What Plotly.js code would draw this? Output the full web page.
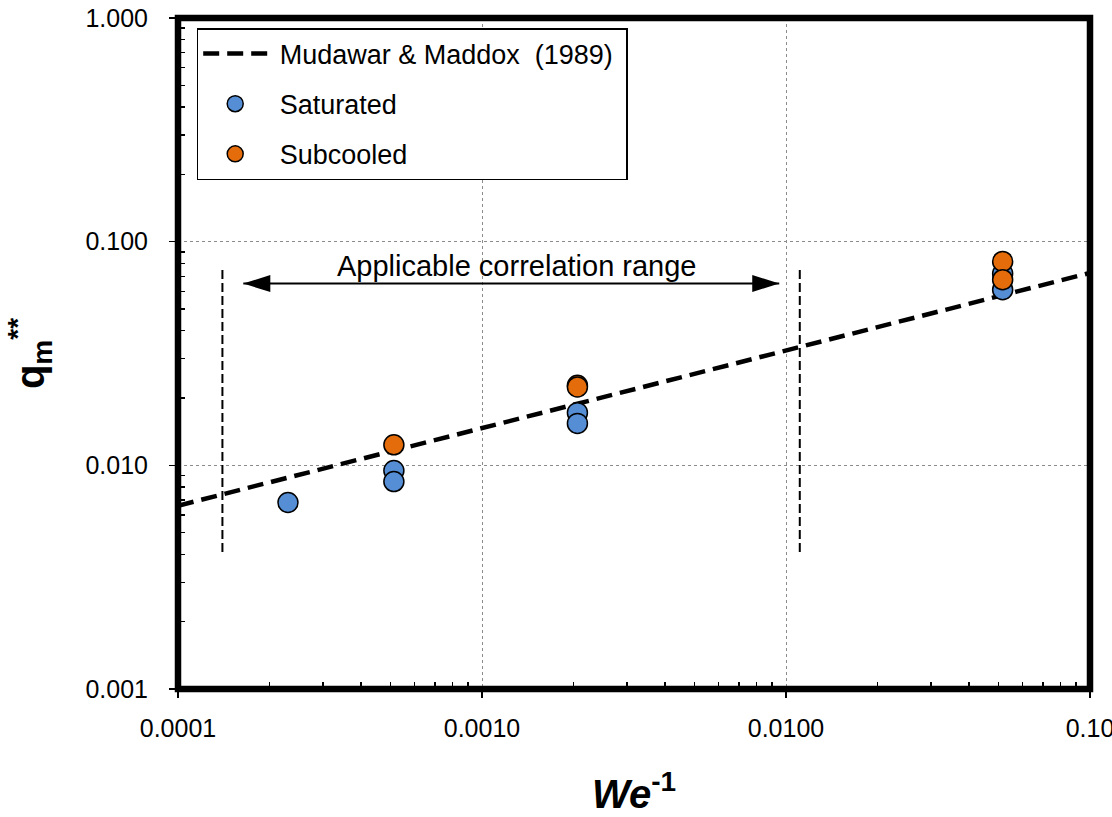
<!DOCTYPE html>
<html>
<head>
<meta charset="utf-8">
<script src="https://cdn.plot.ly/plotly-3.0.1.min.js"></script>
<style>
  html, body { margin: 0; padding: 0; background: #fff; }
  #chart { width: 1112px; height: 817px; }
</style>
</head>
<body>
<div id="chart"></div>
<script>
// Saturated data points (We^-1, q_m**)
const satX = [0.00023, 0.000513, 0.000513, 0.00206, 0.00206, 0.0516, 0.0516];
const satY = [0.00682, 0.00947, 0.00846, 0.0172, 0.0154, 0.072, 0.061];

// Subcooled data points
const subX = [0.000513, 0.00206, 0.00206, 0.0516, 0.0516];
const subY = [0.01235, 0.0228, 0.0224, 0.0816, 0.0676];

// Mudawar & Maddox (1989) correlation line, end points
const corrX = [0.0001, 0.1];
const corrY = [0.0066, 0.0725];

// Limits of the applicable correlation range
const rangeX = [0.00014, 0.0111];
const rangeY = [0.0041, 0.075];

// Arrow marking the applicable range
const arrowX = [0.000164, 0.0095];
const arrowY = 0.065;
const rangeLabel = 'Applicable correlation range';
const rangeLabelX = 0.0013;
const rangeLabelY = 0.078;

// Axis ticks
const xTickVals = [0.0001, 0.001, 0.01, 0.1];
const xTickText = ['0.0001', '0.0010', '0.0100', '0.10'];
const yTickVals = [0.001, 0.01, 0.1, 1];
const yTickText = ['0.001', '0.010', '0.100', '1.000'];

function minorTicks(decades) {
  const out = [];
  decades.forEach(d => { for (let k = 2; k <= 9; k++) out.push(k * Math.pow(10, d)); });
  return out;
}

const FONT = 'Liberation Sans, Arial, sans-serif';
const blue = '#558ED5';
const orange = '#E46C0A';
const NB = '\u00A0';

const traces = [
  {
    x: corrX, y: corrY, mode: 'lines', name: NB + 'Mudawar &amp; Maddox' + NB + ' (1989)' + NB,
    line: { color: '#000', width: 4.5, dash: '16px,8px' },
    legendgroup: 'a'
  },
  {
    x: satX, y: satY, mode: 'markers', name: NB + 'Saturated',
    marker: { size: 20, color: blue, line: { color: '#000', width: 1.5 } },
    legendgroup: 'b'
  },
  {
    x: subX, y: subY, mode: 'markers', name: NB + 'Subcooled',
    marker: { size: 20, color: orange, line: { color: '#000', width: 1.5 } },
    legendgroup: 'c'
  }
];

const shapes = [
  // range limits
  ...rangeX.map(xv => ({
    type: 'line', xref: 'x', yref: 'y', x0: xv, x1: xv, y0: rangeY[0], y1: rangeY[1],
    line: { color: '#000', width: 2, dash: '9px,4px' }
  })),
  // arrow shaft
  {
    type: 'line', xref: 'x', yref: 'y', x0: arrowX[0], x1: arrowX[1], y0: arrowY, y1: arrowY,
    line: { color: '#000', width: 2 }
  },
  // arrow heads
  {
    type: 'path', xref: 'x', yref: 'y', xsizemode: 'pixel', ysizemode: 'pixel',
    xanchor: arrowX[0], yanchor: arrowY, path: 'M0,0 L27,8.5 L27,-8.5 Z',
    fillcolor: '#000', line: { width: 0 }
  },
  {
    type: 'path', xref: 'x', yref: 'y', xsizemode: 'pixel', ysizemode: 'pixel',
    xanchor: arrowX[1], yanchor: arrowY, path: 'M0,0 L-27,8.5 L-27,-8.5 Z',
    fillcolor: '#000', line: { width: 0 }
  },
  // heavy plot frame
  {
    type: 'rect', xref: 'paper', yref: 'paper', x0: 0, x1: 1, y0: 0, y1: 1,
    line: { color: '#000', width: 6.5 }, layer: 'above'
  }
];

const layout = {
  width: 1112, height: 817,
  margin: { l: 178, r: 22, t: 18, b: 128 },
  paper_bgcolor: '#fff', plot_bgcolor: '#fff',
  font: { family: FONT, color: '#000' },
  showlegend: true,
  legend: {
    x: 0.0205, y: 0.985, xanchor: 'left', yanchor: 'top',
    bgcolor: '#fff', bordercolor: '#000', borderwidth: 1.5,
    font: { size: 27, family: FONT, color: '#000' },
    traceorder: 'grouped', tracegroupgap: 12, itemwidth: 64
  },
  xaxis: {
    type: 'log', range: [-4, -1],
    tickmode: 'array', tickvals: xTickVals, ticktext: xTickText,
    ticks: 'outside', ticklen: 8, tickwidth: 1.5, tickcolor: '#000',
    ticklabelstandoff: 9, ticklabeloverflow: 'allow',
    tickfont: { size: 25, family: FONT, color: '#000' },
    showline: false, zeroline: false,
    showgrid: true, gridcolor: '#8c8c8c', gridwidth: 1, griddash: 'dot',
    minor: {
      tickmode: 'array', tickvals: minorTicks([-4, -3, -2]),
      ticks: 'inside', ticklen: 7, tickwidth: 1.5, tickcolor: '#000', showgrid: false
    },
    title: {
      text: '<b><i>We</i><sup>-1</sup></b>',
      font: { size: 40, family: FONT, color: '#000' },
      standoff: 38
    }
  },
  yaxis: {
    type: 'log', range: [-3, 0],
    tickmode: 'array', tickvals: yTickVals, ticktext: yTickText,
    ticks: 'outside', ticklen: 8, tickwidth: 1.5, tickcolor: '#000',
    ticklabelstandoff: 16, ticklabeloverflow: 'allow',
    tickfont: { size: 25, family: FONT, color: '#000' },
    showline: false, zeroline: false,
    showgrid: true, gridcolor: '#8c8c8c', gridwidth: 1, griddash: 'dot',
    minor: {
      tickmode: 'array', tickvals: minorTicks([-3, -2, -1]),
      ticks: 'inside', ticklen: 7, tickwidth: 1.5, tickcolor: '#000', showgrid: false
    },
    title: {
      text: '<b>q<sub>m</sub><sup>**</sup></b>',
      font: { size: 40, family: FONT, color: '#000' },
      standoff: 28
    }
  },
  shapes: shapes,
  annotations: [
    {
      x: Math.log10(rangeLabelX), y: Math.log10(rangeLabelY), xref: 'x', yref: 'y',
      text: rangeLabel, showarrow: false,
      font: { size: 29, family: FONT, color: '#000' },
      xanchor: 'center', yanchor: 'middle'
    }
  ]
};

Plotly.newPlot('chart', traces, layout, { staticPlot: true, displayModeBar: false });
</script>
</body>
</html>
